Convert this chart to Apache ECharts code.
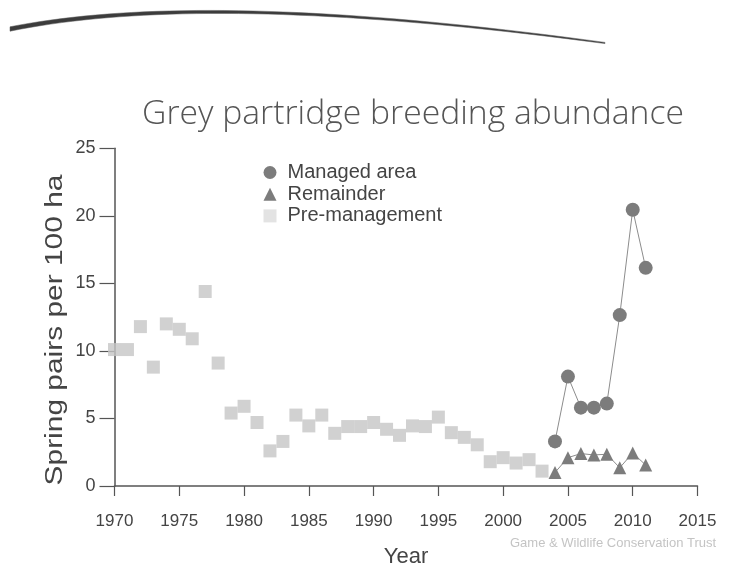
<!DOCTYPE html>
<html>
<head>
<meta charset="utf-8">
<script src="https://cdn.jsdelivr.net/npm/echarts@6/dist/echarts.min.js"></script>
<style>
  html, body { margin: 0; padding: 0; background: #fff; }
  #chart { width: 742px; height: 573px; }
</style>
</head>
<body>
<div id="chart"></div>
<script>
  // values
  const preYears = [1970, 1971, 1972, 1973, 1974, 1975, 1976, 1977, 1978, 1979, 1980, 1981,
    1982, 1983, 1984, 1985, 1986, 1987, 1988, 1989, 1990, 1991, 1992, 1993, 1994, 1995,
    1996, 1997, 1998, 1999, 2000, 2001, 2002, 2003]
  const preValues = [10.1, 10.1, 11.8, 8.8, 12.0, 11.6, 10.9, 14.4, 9.1, 5.4, 5.9, 4.7,
    2.6, 3.3, 5.25, 4.45, 5.25, 3.9, 4.4, 4.4, 4.7, 4.2, 3.75, 4.45, 4.4, 5.1,
    3.95, 3.6, 3.05, 1.8, 2.1, 1.7, 1.95, 1.1]

  const managedYears = [2004, 2005, 2006, 2007, 2008, 2009, 2010, 2011]
  const managedValues = [3.3, 8.1, 5.8, 5.8, 6.1, 12.65, 20.45, 16.15]

  const remainderYears = [2004, 2005, 2006, 2007, 2008, 2009, 2010, 2011]
  const remainderValues = [1.0, 2.1, 2.4, 2.3, 2.35, 1.35, 2.45, 1.55]

  const seriesNames = ['Managed area', 'Remainder', 'Pre-management']

  function pairs (xs, ys) {
    return xs.map((x, i) => [x, ys[i]])
  }

  // slide decoration: a brush stroke that thins out to the right
  function swoosh () {
    const p0 = [10, 29], c1 = [140, 3], c2 = [330, 6], p3 = [605, 43]
    const top = [], bottom = []
    for (let i = 0; i <= 40; i++) {
      const t = i / 40, u = 1 - t
      const x = u * u * u * p0[0] + 3 * u * u * t * c1[0] + 3 * u * t * t * c2[0] + t * t * t * p3[0]
      const y = u * u * u * p0[1] + 3 * u * u * t * c1[1] + 3 * u * t * t * c2[1] + t * t * t * p3[1]
      const w = 2.2 - 1.6 * t
      top.push([x, y - w])
      bottom.unshift([x, y + w])
    }
    return top.concat(bottom)
  }

  const chart = echarts.init(document.getElementById('chart'))
  const textColor = '#444'
  const axisColor = '#555'

  chart.setOption({
    animation: false,
    title: {
      text: 'Grey partridge breeding abundance',
      left: 408,
      top: 92,
      textAlign: 'center',
      textStyle: {
        fontFamily: 'Open Sans',
        fontWeight: 300,
        fontSize: 33.7,
        color: '#555'
      }
    },
    legend: {
      orient: 'vertical',
      left: 263.5,
      top: 162.5,
      padding: 0,
      itemGap: 1.7,
      itemWidth: 13,
      itemHeight: 13,
      textStyle: { fontFamily: 'Liberation Sans', fontSize: 20, color: textColor, padding: [0, 0, 0, 6] },
      data: [
        { name: seriesNames[0], icon: 'circle' },
        { name: seriesNames[1], icon: 'triangle' },
        { name: seriesNames[2], icon: 'rect', itemStyle: { color: '#dcdcdc' } }
      ]
    },
    grid: {
      left: 114.5,
      right: 44.5,
      top: 148.3,
      bottom: 75.7,
      containLabel: false
    },
    xAxis: {
      type: 'value',
      min: 1970,
      max: 2015,
      interval: 5,
      name: 'Year',
      nameLocation: 'middle',
      nameGap: 60,
      nameTextStyle: { fontFamily: 'Liberation Sans', fontSize: 22, color: textColor },
      axisLine: { lineStyle: { color: axisColor, width: 1.5 } },
      axisTick: { length: 10, lineStyle: { color: axisColor, width: 1.2 } },
      axisLabel: {
        fontFamily: 'Liberation Sans',
        fontSize: 17,
        color: textColor,
        margin: 27,
        formatter: v => String(v)
      },
      splitLine: { show: false }
    },
    yAxis: {
      type: 'value',
      min: 0,
      max: 25,
      interval: 5,
      axisLine: { show: true, lineStyle: { color: axisColor, width: 1.5 } },
      axisTick: { show: true, length: 15, lineStyle: { color: axisColor, width: 1.2 } },
      axisLabel: { fontFamily: 'Liberation Sans', fontSize: 18, color: textColor, margin: 19 },
      splitLine: { show: false }
    },
    graphic: [
      {
        type: 'polygon',
        shape: { points: swoosh() },
        style: { fill: '#3c3c3c', stroke: '#5a5a5a', lineWidth: 0.5 }
      },
      {
        // y axis title, drawn stretched along its length as on the slide
        type: 'text',
        x: 56,
        y: 330,
        rotation: Math.PI / 2,
        scaleX: 1.3,
        style: {
          text: 'Spring pairs per 100 ha',
          fontFamily: 'Liberation Sans',
          fontSize: 23,
          fill: textColor,
          align: 'center',
          verticalAlign: 'middle'
        }
      },
      {
        type: 'text',
        left: 510,
        top: 537,
        style: {
          text: 'Game & Wildlife Conservation Trust',
          fontFamily: 'Liberation Sans',
          fontSize: 13,
          fill: '#c4c4c4'
        }
      }
    ],
    series: [
      {
        name: seriesNames[2],
        type: 'scatter',
        symbol: 'rect',
        symbolSize: 13,
        itemStyle: { color: '#c6c6c6' },
        data: pairs(preYears, preValues),
        z: 2
      },
      {
        name: seriesNames[1],
        type: 'line',
        symbol: 'triangle',
        symbolSize: 13,
        showAllSymbol: true,
        lineStyle: { color: '#8c8c8c', width: 1 },
        itemStyle: { color: '#7c7c7c' },
        data: pairs(remainderYears, remainderValues),
        z: 3
      },
      {
        name: seriesNames[0],
        type: 'line',
        symbol: 'circle',
        symbolSize: 14,
        showAllSymbol: true,
        lineStyle: { color: '#8c8c8c', width: 1 },
        itemStyle: { color: '#7c7c7c' },
        data: pairs(managedYears, managedValues),
        z: 4
      }
    ]
  })
</script>
</body>
</html>
